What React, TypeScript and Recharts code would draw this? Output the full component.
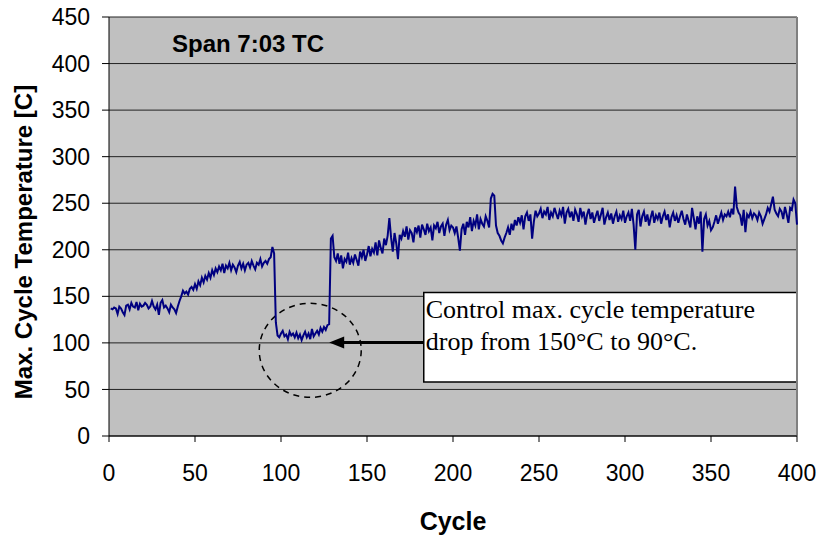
import {
  LineChart,
  Line,
  XAxis,
  YAxis,
  CartesianGrid,
  ReferenceArea,
  ReferenceLine,
  Customized,
} from 'recharts';

// max cycle temperature per cycle, cycles 1..400
const temps: number[] = [
  137, 136, 138, 137, 131, 139, 137, 133, 130, 140,
  141, 136, 143, 139, 138, 144, 135, 142, 139, 140,
  143, 141, 137, 139, 145, 139, 136, 141, 130, 143,
  146, 138, 140, 137, 133, 141, 138, 136, 132, 139,
  145, 150, 156, 153, 155, 152, 158, 160, 157, 163,
  158, 166, 162, 170, 165, 172, 168, 175, 170, 178,
  173, 180, 176, 182, 178, 185, 175, 183, 180, 186,
  178, 184, 181, 176, 183, 187, 180, 185, 178, 184,
  186, 181, 188, 183, 179, 186, 184, 190, 182, 186,
  188, 185, 190, 192, 203, 196, 122, 108, 106, 110,
  113, 107, 109, 104, 112, 108, 110, 106, 111, 105,
  109, 103, 108, 112, 106, 110, 104, 115, 107, 110,
  113, 109, 116, 112, 117, 114, 119, 120, 212, 215,
  192, 188, 196, 185, 194, 180, 190, 187, 197, 184,
  191, 186, 195, 189, 183, 198, 192, 200, 188, 195,
  204, 193, 201, 197, 208, 194, 210, 202, 196, 212,
  205, 215, 234, 213, 198, 218, 207, 190, 216, 212,
  220, 214, 225, 211, 221, 218, 208, 224, 219, 226,
  213, 227, 222, 216, 228, 220, 224, 210, 226, 223,
  230, 218, 225, 228, 215, 227, 232, 221, 226, 224,
  218, 225, 213, 199, 222, 228, 216, 230, 224, 235,
  220, 231, 226, 238, 222, 233, 228, 225, 236, 231,
  224, 255, 260, 258, 226, 218, 215, 210, 207, 213,
  218, 224, 216, 228, 221, 232, 226, 235, 229, 237,
  222, 236, 240, 231, 238, 212, 230, 242, 236, 239,
  244, 234, 241, 238, 246, 232, 240, 236, 245, 239,
  233, 242, 237, 246, 228, 240, 244, 235, 241, 231,
  243, 238, 230, 245, 236, 241, 227, 238, 244, 233,
  240, 229, 236, 242, 231, 238, 245, 227, 235, 240,
  232, 239, 228, 236, 241, 230, 237, 233, 242, 229,
  236, 240, 231, 244, 227, 200, 238, 243, 225, 236,
  241, 230, 238, 226, 235, 242, 229, 237, 233, 240,
  228, 236, 241, 232, 238, 224, 235, 240, 231, 237,
  229, 236, 242, 233, 227, 238, 231, 224, 245, 234,
  222, 236, 228, 241, 198, 233, 238, 226, 231, 221,
  224, 230, 237, 228, 234, 240, 232, 238, 236, 241,
  235, 244, 238, 268, 246, 240, 237, 226, 243, 219,
  238, 235, 241, 234, 239, 237, 232, 240, 236, 228,
  233, 238, 245, 241, 249, 257, 243, 239, 236, 244,
  241, 233, 246, 238, 229, 245, 243, 254, 250, 227,
];

const xTicks = [0, 50, 100, 150, 200, 250, 300, 350, 400];
const yTicks = [0, 50, 100, 150, 200, 250, 300, 350, 400, 450];

const chartTitle = 'Span 7:03 TC';
const noteLines = ['Control max. cycle temperature', 'drop from 150°C to 90°C.'];

const data = temps.map((t, i) => ({ cycle: i + 1, temp: t }));

// plot area in pixels (matches margins + axis sizes below)
const PL = 109;
const PT = 17;
const PW = 688;
const PH = 419;
const px = (c: number) => PL + (c / 400) * PW;
const py = (v: number) => PT + PH - (v / 450) * PH;

const font = '"Liberation Sans", Arial, sans-serif';

const Overlay = () => {
  const tipX = px(128);
  const tailX = px(183);
  const ay = py(100.5);
  return (
    <g>
      <text x={23} y={242} transform="rotate(-90 23 242)" textAnchor="middle" dominantBaseline="central"
        fontFamily={font} fontWeight="bold" fontSize={24} fill="#000">
        Max. Cycle Temperature [C]
      </text>
      <text x={172} y={52} fontFamily={font} fontWeight="bold" fontSize={24} fill="#000">
        {chartTitle}
      </text>
      <ellipse cx={px(117)} cy={py(92)} rx={51} ry={47} fill="none" stroke="#000" strokeWidth={1.5} strokeDasharray="6 5" />
      <line x1={tailX} y1={ay} x2={tipX + 12} y2={ay} stroke="#000" strokeWidth={3} />
      <polygon points={`${tipX},${ay} ${tipX + 15},${ay - 6} ${tipX + 15},${ay + 6}`} fill="#000" />
    </g>
  );
};

const NoteLabel = (props: any) => {
  const { x, y } = props.viewBox;
  return (
    <g>
      {noteLines.map((l, i) => (
        <text key={i} x={x + 2} y={y + 25 + i * 32} fontFamily='"Liberation Serif", "Times New Roman", serif' fontSize={26} fill="#000">
          {l}
        </text>
      ))}
    </g>
  );
};

const App = () => {
  return (
    <div style={{ position: 'absolute', left: 0, top: 0, background: '#fff' }}>
      <LineChart width={820} height={538} data={data} margin={{ top: 17, right: 23, bottom: 0, left: 0 }}>
        <CartesianGrid vertical={false} stroke="#222" fill="#C0C0C0" fillOpacity={1} />
        <XAxis
          dataKey="cycle"
          type="number"
          domain={[0, 400]}
          ticks={xTicks}
          height={102}
          tickSize={6}
          tickMargin={23}
          stroke="#000"
          tick={{ fill: '#000', fontSize: 23, fontFamily: font }}
          label={{ value: 'Cycle', position: 'insideBottom', offset: 8, fill: '#000', fontSize: 25, fontWeight: 'bold', fontFamily: font }}
        />
        <YAxis
          type="number"
          domain={[0, 450]}
          ticks={yTicks}
          width={109}
          tickSize={7}
          tickMargin={12}
          stroke="#000"
          tick={{ fill: '#000', fontSize: 23, fontFamily: font }}
        />
        <ReferenceLine x={400} stroke="#808080" strokeWidth={2} />
        <Line type="linear" dataKey="temp" stroke="#000080" strokeWidth={2} dot={false} isAnimationActive={false} />
        <ReferenceArea x1={183} x2={400} y1={58} y2={154} fill="#fff" fillOpacity={1} stroke="#000" strokeWidth={1.5}
          label={<NoteLabel />} />
        <Customized component={Overlay} />
      </LineChart>
    </div>
  );
};

export default App;
